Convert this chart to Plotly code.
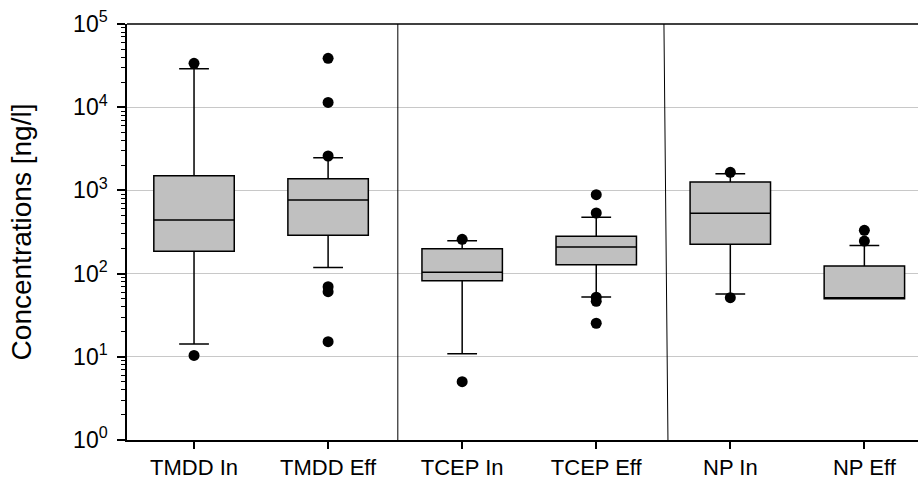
import plotly.graph_objects as go

categories = ["TMDD In", "TMDD Eff", "TCEP In", "TCEP Eff", "NP In", "NP Eff"]
lower_whisker = [14.3, 118, 10.9, 52.3, 56.9, 50]
q1 = [185, 289, 82.2, 128, 225, 50]
median = [441, 767, 104, 209, 530, 50]
q3 = [1500, 1383, 199, 281, 1262, 123]
upper_whisker = [29000, 2470, 249, 475, 1588, 217]

outlier_categories = (["TMDD In"] * 2 + ["TMDD Eff"] * 6 + ["TCEP In"] * 2
                      + ["TCEP Eff"] * 5 + ["NP In"] * 2 + ["NP Eff"] * 2)
outlier_values = [33700, 10.4,
                  38700, 11400, 2590, 69.6, 60.6, 15.2,
                  258, 5.02,
                  889, 535, 52, 46.5, 25.3,
                  1650, 51.3,
                  331, 246]

y_tick_values = [1, 10, 100, 1000, 10000, 100000]
y_tick_text = ["10<sup>%d</sup>" % i for i in range(6)]
separators = [(1.52, 1.52), (3.535, 3.505)]

font_family = "Liberation Sans, Arial, sans-serif"

fig = go.Figure()
fig.add_trace(go.Box(
    x=categories, q1=q1, median=median, q3=q3,
    lowerfence=lower_whisker, upperfence=upper_whisker,
    boxpoints=False, fillcolor="#c0c0c0",
    line=dict(color="black", width=1.5),
    width=0.6, whiskerwidth=0.37, showlegend=False,
))
fig.add_trace(go.Scatter(
    x=outlier_categories, y=outlier_values, mode="markers",
    marker=dict(color="black", size=11), showlegend=False,
))

for x0, x1 in separators:
    fig.add_shape(type="line", xref="x", yref="paper", x0=x0, x1=x1, y0=0, y1=1,
                  line=dict(color="black", width=1))
fig.add_shape(type="line", xref="paper", yref="paper", x0=0, x1=1, y0=1, y1=1,
              line=dict(color="black", width=1.5))

minor_vals = [m * 10 ** e for e in range(5) for m in range(2, 10)]

fig.update_layout(
    width=918, height=483,
    margin=dict(l=127, r=0, t=24, b=43),
    paper_bgcolor="white", plot_bgcolor="white",
    font=dict(family=font_family, color="black", size=22),
    xaxis=dict(
        type="category", categoryorder="array", categoryarray=categories,
        range=[-0.5, 5.4], showline=True, linecolor="black", linewidth=1.5,
        ticks="outside", ticklen=7, tickcolor="black", tickwidth=1.5,
        showgrid=False, tickfont=dict(size=22), zeroline=False,
    ),
    yaxis=dict(
        type="log", range=[0, 5], showline=True, linecolor="black", linewidth=1.5,
        tickvals=y_tick_values, ticktext=y_tick_text,
        ticks="outside", ticklen=8, tickcolor="black", tickwidth=1.5,
        ticklabelstandoff=5,
        showgrid=True, gridcolor="#c8c8c8", gridwidth=1.2,
        tickfont=dict(size=23),
        minor=dict(tickvals=minor_vals, ticks="outside", ticklen=4,
                   tickcolor="black", tickwidth=1, showgrid=False),
        title=dict(text="Concentrations [ng/l]", font=dict(size=28), standoff=33),
        zeroline=False,
    ),
)

fig.write_html(
    "out.html",
    config={"displayModeBar": False},
    post_script="document.body.style.margin='0';document.body.style.overflow='hidden';",
)
